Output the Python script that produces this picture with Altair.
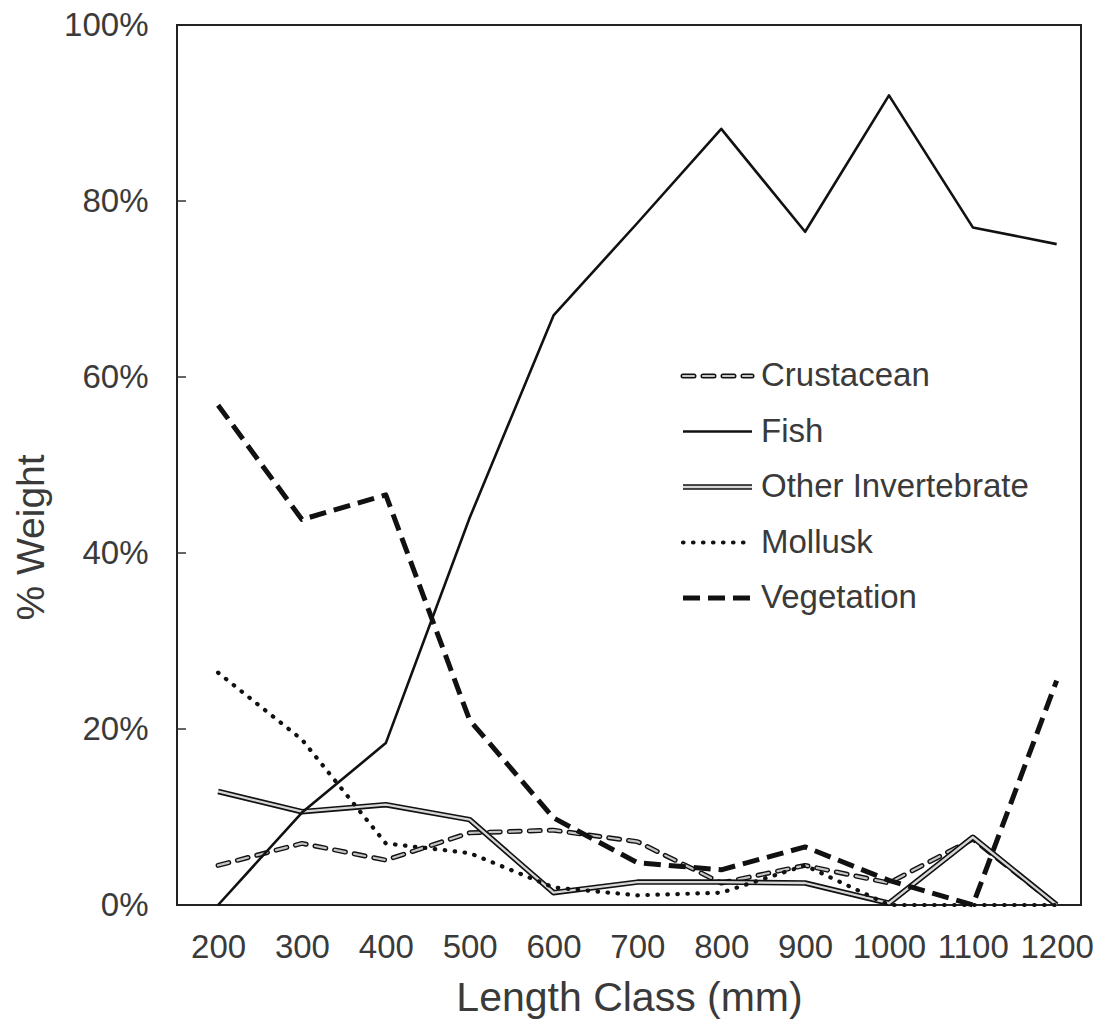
import altair as alt
import pandas as pd

# Diet composition (% weight) by length class
lengths = [200, 300, 400, 500, 600, 700, 800, 900, 1000, 1100, 1200]
crustacean = [4.5, 7.0, 5.1, 8.2, 8.5, 7.2, 2.5, 4.5, 2.5, 7.5, 0.0]
fish = [0.0, 10.5, 18.4, 44.0, 67.0, 77.5, 88.2, 76.5, 92.0, 77.0, 75.1]
other_invertebrate = [12.9, 10.6, 11.4, 9.7, 1.4, 2.6, 2.6, 2.5, 0.2, 7.7, 0.0]
mollusk = [26.4, 18.8, 7.0, 5.9, 2.0, 1.1, 1.4, 4.5, 0.0, 0.0, 0.0]
vegetation = [56.8, 43.8, 46.6, 21.0, 9.9, 4.8, 4.0, 6.6, 2.8, 0.0, 25.5]

series_names = ["Crustacean", "Fish", "Other Invertebrate", "Mollusk", "Vegetation"]
series_values = [crustacean, fish, other_invertebrate, mollusk, vegetation]
y_ticks = [0, 20, 40, 60, 80, 100]
inner_ticks = [20, 40, 60, 80]

rows = []
for name, vals in zip(series_names, series_values):
    for length, v in zip(lengths, vals):
        rows.append({"series": name, "length": length, "weight": v})
df = pd.DataFrame(rows)

FONT = "Liberation Sans"
TEXT = "#3a3a3a"
W, H = 904, 880

# Stroke layers per series (drawn bottom to top)
styles = {
    "Crustacean": [
        dict(color="#111111", strokeWidth=5, strokeDash=[11, 9], strokeCap="round"),
        dict(color="#c4c4c4", strokeWidth=2.2, strokeDash=[11, 9], strokeCap="round"),
    ],
    "Other Invertebrate": [
        dict(color="#111111", strokeWidth=5.5),
        dict(color="#d6d6d6", strokeWidth=2.3),
    ],
    "Mollusk": [
        dict(color="#111111", strokeWidth=4.2, strokeDash=[0.5, 9.5], strokeCap="round"),
    ],
    "Fish": [
        dict(color="#111111", strokeWidth=2.6),
    ],
    "Vegetation": [
        dict(color="#111111", strokeWidth=5, strokeDash=[17, 8]),
    ],
}
draw_order = ["Crustacean", "Other Invertebrate", "Mollusk", "Fish", "Vegetation"]

x_scale = alt.Scale(domain=[151, 1229], nice=False, zero=False)
y_scale = alt.Scale(domain=[0, 100], nice=False)

x_axis = alt.Axis(
    values=lengths, format="d", ticks=False, domain=False, grid=False,
    labelFont=FONT, labelFontSize=33, labelColor=TEXT, labelPadding=26,
    title="Length Class (mm)", titleFont=FONT, titleFontSize=41,
    titleFontWeight="normal", titleColor=TEXT, titlePadding=14,
)
y_axis = alt.Axis(
    values=y_ticks, ticks=False, domain=False, grid=False,
    labelFont=FONT, labelFontSize=33, labelColor=TEXT, labelPadding=29,
    labelExpr="datum.value + '%'",
    title="% Weight", titleFont=FONT, titleFontSize=39,
    titleFontWeight="normal", titleColor=TEXT, titlePadding=12,
    titleY=512,
)

X = alt.X("length:Q", scale=x_scale, axis=x_axis)
Y = alt.Y("weight:Q", scale=y_scale, axis=y_axis)

base = alt.Chart(df)
layers = []
for name in draw_order:
    for st in styles[name]:
        layers.append(
            base.transform_filter(alt.datum.series == name)
            .mark_line(strokeJoin="round", **st)
            .encode(x=X, y=Y)
        )

# Inward tick marks on the left frame
ticks = alt.Chart(pd.DataFrame({"weight": inner_ticks})).mark_rule(
    color="#333333", strokeWidth=1.5
).encode(y=Y, x=alt.value(0), x2=alt.value(9))
layers.append(ticks)

# Legend drawn inside the plot
leg_x0, leg_x1, leg_text_x = 506, 575, 584
leg_y0, leg_step = 351, 55.5
for i, name in enumerate(series_names):
    yy = leg_y0 + i * leg_step
    one = pd.DataFrame({"series": [name]})
    for st in styles[name]:
        layers.append(
            alt.Chart(one).mark_rule(**st).encode(
                x=alt.value(leg_x0), x2=alt.value(leg_x1), y=alt.value(yy)
            )
        )
    layers.append(
        alt.Chart(one).mark_text(
            align="left", baseline="middle", font=FONT, fontSize=33, color=TEXT
        ).encode(text="series:N", x=alt.value(leg_text_x), y=alt.value(yy))
    )

chart = alt.layer(*layers).properties(
    width=W, height=H,
    autosize=alt.AutoSizeParams(type="none"),
    padding={"left": 177, "top": 25, "right": 1099 - 177 - W, "bottom": 1019 - 25 - H},
    background="white",
).configure_view(stroke="#222222", strokeWidth=2)

chart.save("out.html", embed_options={"renderer": "svg", "actions": False})
